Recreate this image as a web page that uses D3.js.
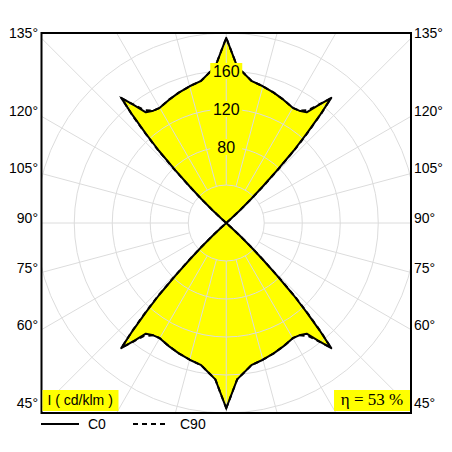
<!DOCTYPE html>
<html>
<head>
<meta charset="utf-8">
<script src="https://cdn.jsdelivr.net/npm/d3@7"></script>
<style>
  body { margin: 0; background: #fff; }
  text { font-family: "Liberation Sans", Arial, sans-serif; }
</style>
</head>
<body>
<div id="chart"></div>
<script>
// photometric data (cd/klm), gamma measured from nadir 0..180
const gammas = [0, 4, 10, 15, 20, 25, 30, 33, 36, 38, 40, 41, 42, 43, 44, 45, 46, 47, 48, 50, 90,
  130, 132, 133, 134, 135, 136, 137, 138, 139, 140, 142, 144, 147, 150, 155, 160, 165, 170, 176, 180];
const c0Values = [195, 165, 152, 149, 146, 143, 140, 141, 144, 157, 172, 150, 126, 104, 77, 54, 36, 19, 7, 0, 0,
  0, 7, 19, 36, 54, 77, 104, 126, 150, 172, 157, 144, 141, 140, 143, 146, 149, 152, 165, 195];
const c90Values = [195, 165, 152, 149, 146, 143, 140, 141, 147, 158, 171, 152, 129, 107, 80, 57, 38, 21, 8, 0, 0,
  0, 8, 21, 38, 57, 80, 107, 129, 152, 171, 158, 147, 141, 140, 143, 146, 149, 152, 165, 195];

const ringValues = [40, 80, 120, 160, 200];
const ringLabels = [80, 120, 160];
const spokeAngles = d3.range(0, 360, 15);
const angleTicks = [135, 120, 105, 90, 75, 60, 45];

const width = 452;
const height = 452;
const cx = 226.25, cy = 223;
const frame = { x0: 41.5, y0: 33, x1: 411, y1: 413 };

const r = d3.scaleLinear().domain([0, 200]).range([0, 190]);

const svg = d3.select('#chart').append('svg')
  .attr('width', width)
  .attr('height', height);

svg.append('defs').append('clipPath').attr('id', 'clip')
  .append('rect')
  .attr('x', frame.x0).attr('y', frame.y0)
  .attr('width', frame.x1 - frame.x0).attr('height', frame.y1 - frame.y0);

const plot = svg.append('g').attr('clip-path', 'url(#clip)');
const g = plot.append('g').attr('transform', `translate(${cx},${cy})`);

// closed outline: right half then left half mirrored
const toPoints = (vals) => {
  const right = gammas.map((a, i) => [Math.PI - a * Math.PI / 180, r(vals[i])]);
  const left = gammas.map((a, i) => [Math.PI + a * Math.PI / 180, r(vals[i])]).reverse();
  return right.concat(left);
};

const line = d3.lineRadial()
  .angle(d => d[0])
  .radius(d => d[1])
  .curve(d3.curveLinearClosed);

g.append('path')
  .attr('d', line(toPoints(c0Values)))
  .attr('fill', '#ffff00')
  .attr('stroke', 'none');

// grid
g.selectAll('.ring')
  .data(ringValues)
  .enter().append('circle')
  .attr('r', d => r(d))
  .attr('fill', 'none')
  .attr('stroke', '#dcdcdc')
  .attr('stroke-width', 1);

g.selectAll('.spoke')
  .data(spokeAngles)
  .enter().append('line')
  .attr('x1', d => r(40) * Math.sin(d * Math.PI / 180))
  .attr('y1', d => -r(40) * Math.cos(d * Math.PI / 180))
  .attr('x2', d => 300 * Math.sin(d * Math.PI / 180))
  .attr('y2', d => -300 * Math.cos(d * Math.PI / 180))
  .attr('stroke', '#dcdcdc')
  .attr('stroke-width', 1);

g.append('path')
  .attr('d', line(toPoints(c90Values)))
  .attr('fill', 'none')
  .attr('stroke', '#000')
  .attr('stroke-width', 2)
  .attr('stroke-dasharray', '5,4');

g.append('path')
  .attr('d', line(toPoints(c0Values)))
  .attr('fill', 'none')
  .attr('stroke', '#000')
  .attr('stroke-width', 2)
  .attr('stroke-linejoin', 'round');

// ring labels
const lab = g.selectAll('.rlab')
  .data(ringLabels)
  .enter().append('g')
  .attr('transform', d => `translate(0,${-r(d)})`);
lab.append('rect')
  .attr('x', -16).attr('y', -8).attr('width', 32).attr('height', 16)
  .attr('fill', '#ffff00');
lab.append('text')
  .attr('text-anchor', 'middle')
  .attr('dy', '0.36em')
  .style('font-size', '16px')
  .text(d => d);

// frame
svg.append('rect')
  .attr('x', frame.x0).attr('y', frame.y0)
  .attr('width', frame.x1 - frame.x0).attr('height', frame.y1 - frame.y0)
  .attr('fill', 'none')
  .attr('stroke', '#000')
  .attr('stroke-width', 2);

// angle labels on both sides
const dx = cx - frame.x0;
const tickY = a => cy + dx * Math.cos(a * Math.PI / 180) / Math.sin(a * Math.PI / 180);
svg.selectAll('.lt')
  .data(angleTicks)
  .enter().append('text')
  .attr('x', 38)
  .attr('y', d => tickY(d))
  .attr('text-anchor', 'end')
  .style('font-size', '14px')
  .text(d => d + '°');
svg.selectAll('.rt')
  .data(angleTicks)
  .enter().append('text')
  .attr('x', 414)
  .attr('y', d => tickY(d))
  .style('font-size', '14px')
  .text(d => d + '°');

// unit and efficiency boxes
svg.append('rect')
  .attr('x', 42.5).attr('y', 390).attr('width', 76).attr('height', 21)
  .attr('fill', '#ffff00');
svg.append('text')
  .attr('x', 47.5).attr('y', 405)
  .style('font-size', '14px')
  .text('I ( cd/klm )');

svg.append('rect')
  .attr('x', 334).attr('y', 390).attr('width', 76).attr('height', 21)
  .attr('fill', '#ffff00');
svg.append('text')
  .attr('x', 372).attr('y', 405)
  .attr('text-anchor', 'middle')
  .style('font-family', '"Liberation Serif", "Times New Roman", serif')
  .style('font-size', '17px')
  .text('η = 53 %');

// legend
svg.append('line')
  .attr('x1', 41).attr('x2', 79).attr('y1', 424).attr('y2', 424)
  .attr('stroke', '#000').attr('stroke-width', 2);
svg.append('text')
  .attr('x', 88).attr('y', 429)
  .style('font-size', '14px')
  .text('C0');
svg.append('line')
  .attr('x1', 133).attr('x2', 167).attr('y1', 424).attr('y2', 424)
  .attr('stroke', '#000').attr('stroke-width', 2)
  .attr('stroke-dasharray', '5,4');
svg.append('text')
  .attr('x', 180).attr('y', 429)
  .style('font-size', '14px')
  .text('C90');
</script>
</body>
</html>
